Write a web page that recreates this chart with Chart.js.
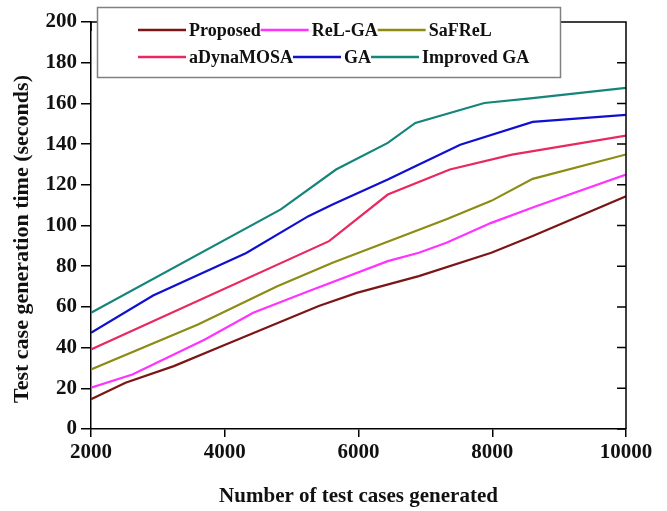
<!DOCTYPE html>
<html>
<head>
<meta charset="utf-8">
<script src="https://cdn.jsdelivr.net/npm/chart.js@4.4.1/dist/chart.umd.min.js"></script>
<style>
  body { margin: 0; background: #fff; }
</style>
</head>
<body>
<canvas id="timeChart" width="667" height="511"></canvas>
<script>
// =====================
// DATA
// =====================
const seriesNames = ["Proposed", "ReL-GA", "SaFReL", "aDynaMOSA", "GA", "Improved GA"];
const seriesColors = ["#7b1616", "#ff33ff", "#8c8c14", "#e8285f", "#1010d0", "#14857a"];

const proposedX = [2000, 2516, 3238, 3961, 5406, 5973, 6902, 7986, 8605, 10000];
const proposedY = [14.6, 22.7, 30.9, 40.8, 60.4, 66.9, 75.1, 86.6, 94.8, 114.4];

const relGaX = [2000, 2619, 3703, 4425, 5251, 6438, 6902, 7315, 7986, 8656, 10000];
const relGaY = [20.3, 26.8, 44.0, 57.1, 67.7, 82.5, 86.6, 91.5, 101.3, 109.5, 125.0];

const safrelX = [2000, 3600, 4786, 5612, 7315, 7986, 8605, 10000];
const safrelY = [29.3, 51.4, 70.2, 81.7, 103.1, 112.1, 122.9, 134.9];

const adynaX = [2000, 5560, 6438, 7366, 8295, 10000];
const adynaY = [39.1, 92.3, 115.2, 127.5, 134.8, 144.2];

const gaX = [2000, 2929, 4322, 5251, 5612, 6438, 6850, 7521, 8605, 10000];
const gaY = [47.3, 65.6, 86.5, 104.6, 110.3, 122.6, 129.1, 139.7, 150.9, 154.4];

const improvedX = [2000, 4838, 5664, 6438, 6850, 7882, 8605, 10000];
const improvedY = [57.1, 107.9, 127.5, 140.6, 150.4, 160.2, 162.6, 167.6];

const xTickLabels = ["2000", "4000", "6000", "8000", "10000"];
const yTickLabels = ["0", "20", "40", "60", "80", "100", "120", "140", "160", "180", "200"];

const allX = [proposedX, relGaX, safrelX, adynaX, gaX, improvedX];
const allY = [proposedY, relGaY, safrelY, adynaY, gaY, improvedY];

const yTitle = "Test case generation time (seconds)";
const FONT = "'Liberation Serif', 'Times New Roman', serif";

// =====================
// FRAME + LEGEND PLUGIN
// =====================
const framePlugin = {
    id: "frame",
    afterDraw(chart) {
        const ctx = chart.ctx;
        const area = chart.chartArea;
        const xs = chart.scales.x;
        const ys = chart.scales.y;

        // top and right border, with inward ticks
        ctx.save();
        ctx.strokeStyle = "#000";
        ctx.lineWidth = 1.5;
        ctx.beginPath();
        ctx.moveTo(area.left, area.top);
        ctx.lineTo(area.right, area.top);
        ctx.lineTo(area.right, area.bottom);
        ys.ticks.forEach(t => {
            const py = ys.getPixelForValue(t.value);
            ctx.moveTo(area.right, py);
            ctx.lineTo(area.right - 9, py);
        });
        xs.ticks.forEach(t => {
            const px = xs.getPixelForValue(t.value);
            ctx.moveTo(px, area.top);
            ctx.lineTo(px, area.top + 9);
        });
        ctx.stroke();

        // y axis title (sits a bit below the plot centre in the original)
        ctx.save();
        ctx.translate(22, 239);
        ctx.rotate(-Math.PI / 2);
        ctx.font = "bold 22px " + FONT;
        ctx.fillStyle = "#111";
        ctx.textAlign = "center";
        ctx.textBaseline = "middle";
        ctx.fillText(yTitle, 0, 0);
        ctx.restore();

        // legend box
        const bx = 97, by = 7, bw = 463, bh = 70;
        ctx.fillStyle = "#fff";
        ctx.fillRect(bx, by, bw, bh);
        ctx.strokeStyle = "#808080";
        ctx.lineWidth = 1.5;
        ctx.strokeRect(bx + 0.5, by + 0.5, bw, bh);

        ctx.font = "bold 18px " + FONT;
        ctx.textBaseline = "middle";
        ctx.fillStyle = "#111";
        const rows = [[0, 1, 2], [3, 4, 5]];
        const rowY = [30, 57];
        rows.forEach((row, r) => {
            let cx = 138;
            row.forEach(i => {
                ctx.strokeStyle = seriesColors[i];
                ctx.lineWidth = 2.5;
                ctx.beginPath();
                ctx.moveTo(cx, rowY[r]);
                ctx.lineTo(cx + 48, rowY[r]);
                ctx.stroke();
                cx += 51;
                ctx.fillText(seriesNames[i], cx, rowY[r] + 1);
                cx += ctx.measureText(seriesNames[i]).width;
            });
        });
        ctx.restore();
    }
};

// =====================
// CHART
// =====================
const datasets = seriesNames.map((name, i) => ({
    label: name,
    data: allX[i].map((x, j) => ({ x: x, y: allY[i][j] })),
    borderColor: seriesColors[i],
    backgroundColor: seriesColors[i],
    borderWidth: 2.2,
    pointRadius: 0,
    tension: 0,
    fill: false
}));

new Chart(document.getElementById("timeChart"), {
    type: "line",
    data: { datasets: datasets },
    options: {
        responsive: false,
        animation: false,
        layout: { padding: { top: 22, right: 41, left: 0, bottom: 0 } },
        plugins: {
            legend: { display: false },
            tooltip: { enabled: false }
        },
        scales: {
            x: {
                type: "linear",
                min: 2000,
                max: 10000,
                afterFit: s => { s.height = 82; },
                afterBuildTicks: s => {
                    s.ticks = xTickLabels.map(v => ({ value: Number(v) }));
                },
                border: { color: "#000", width: 1.5 },
                grid: { drawOnChartArea: false, color: "#000", lineWidth: 1.5, tickLength: 8 },
                ticks: {
                    color: "#111",
                    padding: 3,
                    font: { family: FONT, size: 21, weight: "bold" },
                    callback: v => String(v)
                },
                title: {
                    display: true,
                    text: "Number of test cases generated",
                    color: "#111",
                    padding: { top: 0, bottom: 2 },
                    font: { family: FONT, size: 21, weight: "bold" }
                }
            },
            y: {
                min: 0,
                max: 200,
                afterFit: s => { s.width = 91; },
                afterBuildTicks: s => {
                    s.ticks = yTickLabels.map(v => ({ value: Number(v) }));
                },
                border: { color: "#000", width: 1.5 },
                grid: { drawOnChartArea: false, color: "#000", lineWidth: 1.5, tickLength: 10 },
                ticks: {
                    color: "#111",
                    padding: 4,
                    font: { family: FONT, size: 21, weight: "bold" },
                    callback: v => String(v)
                }
            }
        }
    },
    plugins: [framePlugin]
});
</script>
</body>
</html>
